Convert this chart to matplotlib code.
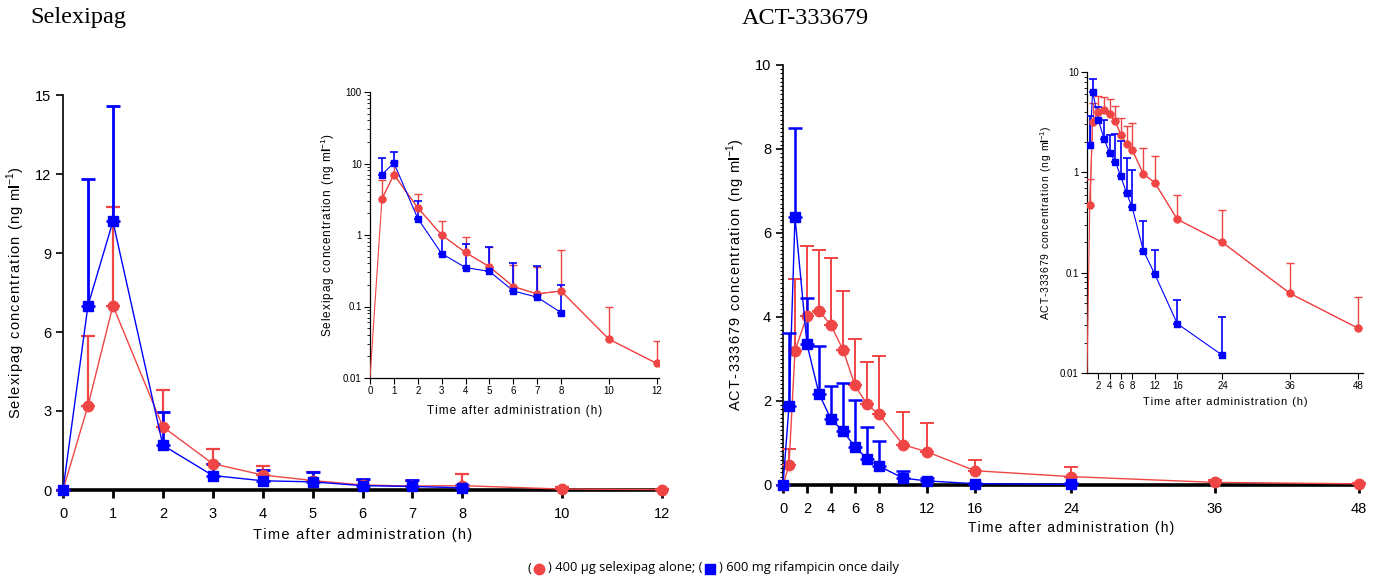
import numpy as np
import matplotlib
matplotlib.use("Agg")
import matplotlib.pyplot as plt
from matplotlib.ticker import FixedLocator, MultipleLocator, LogLocator, NullFormatter, FuncFormatter
from matplotlib.offsetbox import TextArea, DrawingArea, HPacker, AnchoredOffsetbox
from matplotlib.lines import Line2D

plt.rcParams['font.family'] = ['Liberation Sans', 'DejaVu Sans']
plt.rcParams['mathtext.fontset'] = 'custom'
plt.rcParams['mathtext.rm'] = 'Liberation Sans'
plt.rcParams['mathtext.bf'] = 'Liberation Sans:bold'

RED = '#f04545'
BLUE = '#0000ff'

# ---------------- Data: Selexipag ----------------
sel_t_red = [0, 0.5, 1, 2, 3, 4, 5, 6, 7, 8, 10, 12]
sel_red = [0, 3.2, 7.0, 2.4, 1.0, 0.57, 0.36, 0.19, 0.15, 0.165, 0.035, 0.016]
sel_red_up = [0, 5.85, 10.75, 3.8, 1.57, 0.93, 0.69, 0.38, 0.36, 0.62, 0.10, 0.033]
sel_t_blue = [0, 0.5, 1, 2, 3, 4, 5, 6, 7, 8]
sel_blue = [0, 7.0, 10.2, 1.7, 0.55, 0.35, 0.31, 0.165, 0.135, 0.082]
sel_blue_up = [0, 11.8, 14.6, 2.95, 1.0, 0.75, 0.68, 0.40, 0.37, 0.20]

# ---------------- Data: ACT-333679 ----------------
act_t_red = [0, 0.5, 1, 2, 3, 4, 5, 6, 7, 8, 10, 12, 16, 24, 36, 48]
act_red = [0, 0.47, 3.2, 4.03, 4.15, 3.8, 3.22, 2.37, 1.92, 1.68, 0.96, 0.79, 0.34, 0.20, 0.062, 0.028]
act_red_up = [0, 0.85, 4.9, 5.7, 5.6, 5.4, 4.62, 3.48, 2.92, 3.08, 1.75, 1.47, 0.60, 0.42, 0.125, 0.057]
act_t_blue = [0, 0.5, 1, 2, 3, 4, 5, 6, 7, 8, 10, 12, 16, 24]
act_blue = [0, 1.88, 6.38, 3.35, 2.17, 1.57, 1.28, 0.91, 0.62, 0.45, 0.165, 0.097, 0.031, 0.015]
act_blue_up = [0, 3.62, 8.5, 4.45, 3.3, 2.35, 2.42, 2.03, 1.38, 1.05, 0.33, 0.17, 0.054, 0.036]

sel_xticks = [0, 1, 2, 3, 4, 5, 6, 7, 8, 10, 12]
act_xticks = [0, 2, 4, 6, 8, 12, 16, 24, 36, 48]
act_inset_xticks = [2, 4, 6, 8, 12, 16, 24, 36, 48]

W, H = 1379, 581
fig = plt.figure(figsize=(W / 100, H / 100), dpi=100)

HS = '\u200a'


def track(s):
    return HS.join(s)


def ax_at(x0, x1, ytop, ybot):
    return fig.add_axes([x0 / W, (H - ybot) / H, (x1 - x0) / W, (ybot - ytop) / H])


def series(ax, t, m, up, color, marker, ms, lw, cap, elw, inset=False):
    t = np.asarray(t, float); m = np.asarray(m, float); up = np.asarray(up, float)
    if inset:
        # line including the zero time point pinned at the axis floor
        mm = np.where(m > 0, m, 0.01)
        if m[0] == 0 and len(t) and t[0] == 0 and color == RED:
            ax.plot(t, mm, color=color, lw=lw, zorder=3)
        keep = t > 0
        t, m, up = t[keep], m[keep], up[keep]
        ax.plot(t, m, color=color, lw=lw, zorder=3)
        ls = 'none'
    else:
        ls = '-'
    err = np.vstack([np.zeros_like(m), np.clip(up - m, 0, None)])
    eb = ax.errorbar(t, m, yerr=err, color=color, ecolor=color, marker=marker,
                     ms=ms, lw=lw, ls=ls, elinewidth=elw, capsize=cap, capthick=elw,
                     mec=color, mfc=color, clip_on=inset, zorder=3)
    return eb


def style_main(ax):
    ax.spines['top'].set_visible(False)
    ax.spines['right'].set_visible(False)
    ax.spines['bottom'].set_linewidth(2.6)
    ax.spines['left'].set_linewidth(1.2)
    ax.tick_params(axis='both', labelsize=10.5, length=5, width=1.2, direction='out')
    ax.tick_params(axis='x', width=2, length=6, pad=6)


def style_inset(ax):
    ax.spines['top'].set_visible(False)
    ax.spines['right'].set_visible(False)
    ax.spines['bottom'].set_linewidth(0.9)
    ax.spines['left'].set_linewidth(0.9)
    ax.tick_params(axis='both', which='major', labelsize=7, length=4, width=0.8, pad=2)
    ax.tick_params(axis='y', which='minor', length=2.5, width=0.6)
    ax.patch.set_alpha(0)


def logfmt(v, pos):
    if v >= 1:
        return '%d' % round(v)
    return ('%g' % v)


UNIT = 'm$\\mathbf{l}^{-1}$)'

# ---------------- Left main ----------------
axL = ax_at(63, 662, 95, 490)
series(axL, sel_t_red, sel_red, sel_red_up, RED, 'o', 7.5, 1.0, 5, 1.6)
series(axL, sel_t_blue, sel_blue, sel_blue_up, BLUE, 's', 7.5, 1.0, 5, 2.0)
axL.set_xlim(0, 12)
axL.set_ylim(0, 15)
axL.set_xticks(sel_xticks)
axL.set_yticks([0, 3, 6, 9, 12, 15])
style_main(axL)
axL.set_xlabel(track('Time after administration (h)'), fontsize=10.5, labelpad=5)
axL.set_ylabel(track('Selexipag concentration (ng ') + UNIT, fontsize=10.5)
axL.yaxis.set_label_coords((27 - 63) / 599, 0.5)

# ---------------- Left inset ----------------
axLi = ax_at(370, 659, 92, 378)
axLi.set_yscale('log')
series(axLi, sel_t_red, sel_red, sel_red_up, RED, 'o', 5, 0.8, 3, 1.0, inset=True)
series(axLi, sel_t_blue, sel_blue, sel_blue_up, BLUE, 's', 5, 0.8, 3, 1.2, inset=True)
axLi.set_xlim(0, 12.1)
axLi.set_ylim(0.01, 100)
axLi.set_xticks(sel_xticks)
axLi.yaxis.set_major_locator(FixedLocator([0.01, 0.1, 1, 10, 100]))
axLi.yaxis.set_minor_locator(LogLocator(base=10, subs=np.arange(2, 10)))
axLi.yaxis.set_major_formatter(FuncFormatter(logfmt))
axLi.yaxis.set_minor_formatter(NullFormatter())
style_inset(axLi)
axLi.set_xlabel(track('Time after administration (h)'), fontsize=8.5, labelpad=6)
axLi.set_ylabel(track('Selexipag concentration (ng ') + UNIT, fontsize=8.5, labelpad=4)

# ---------------- Right main ----------------
axR = ax_at(783, 1359, 65, 485)
series(axR, act_t_red, act_red, act_red_up, RED, 'o', 7.5, 1.0, 5, 1.4)
series(axR, act_t_blue, act_blue, act_blue_up, BLUE, 's', 7.5, 1.0, 5, 1.8)
axR.set_xlim(0, 48)
axR.set_ylim(0, 10)
axR.set_xticks(act_xticks)
axR.set_yticks([0, 2, 4, 6, 8, 10])
axR.yaxis.set_minor_locator(MultipleLocator(0.1))
style_main(axR)
axR.tick_params(axis='y', which='minor', length=2.5, width=0.8)
axR.set_xlabel(track('Time after administration (h)'), fontsize=10, labelpad=4)
axR.set_ylabel(track('ACT-333679 concentration (ng ') + UNIT, fontsize=10.5)
axR.yaxis.set_label_coords((747 - 783) / 576, 0.5)

# ---------------- Right inset ----------------
axRi = ax_at(1087, 1363, 72, 373)
axRi.set_yscale('log')
series(axRi, act_t_red, act_red, act_red_up, RED, 'o', 5, 0.8, 3, 1.0, inset=True)
series(axRi, act_t_blue, act_blue, act_blue_up, BLUE, 's', 5, 0.8, 3, 1.2, inset=True)
axRi.set_xlim(0, 48.9)
axRi.set_ylim(0.01, 10)
axRi.set_xticks(act_inset_xticks)
axRi.yaxis.set_major_locator(FixedLocator([0.01, 0.1, 1, 10]))
axRi.yaxis.set_minor_locator(LogLocator(base=10, subs=np.arange(2, 10)))
axRi.yaxis.set_major_formatter(FuncFormatter(logfmt))
axRi.yaxis.set_minor_formatter(NullFormatter())
style_inset(axRi)
axRi.set_xlabel(track('Time after administration (h)'), fontsize=8, labelpad=4)
axRi.set_ylabel(track('ACT-333679 concentration (ng ') + UNIT, fontsize=7.5, labelpad=4)

# ---------------- Titles ----------------
fig.text(30 / W, 1 - 18 / H, 'Selexipag', family='Liberation Serif', fontsize=17.5, va='center', ha='left')
fig.text(742 / W, 1 - 18 / H, 'ACT-333679', family='Liberation Serif', fontsize=17.5, va='center', ha='left')

# ---------------- Legend line ----------------
def mk(marker, color):
    da = DrawingArea(10, 10, 0, 0)
    da.add_artist(Line2D([5], [4.5], marker=marker, color=color, ms=7.5, mec=color, mfc=color))
    return da

tp = dict(fontsize=9.3, family='Open Sans')
parts = [TextArea('(', textprops=tp), mk('o', RED),
         TextArea(') 400 µg selexipag alone; (', textprops=tp), mk('s', BLUE),
         TextArea(') 600 mg rifampicin once daily', textprops=tp)]
box = HPacker(children=parts, align='center', pad=0, sep=1)
anch = AnchoredOffsetbox(loc='center', child=box, frameon=False,
                         bbox_to_anchor=(713 / W, (H - 568) / H),
                         bbox_transform=fig.transFigure, borderpad=0, pad=0)
fig.add_artist(anch)

fig.savefig('out.png', dpi=100)
